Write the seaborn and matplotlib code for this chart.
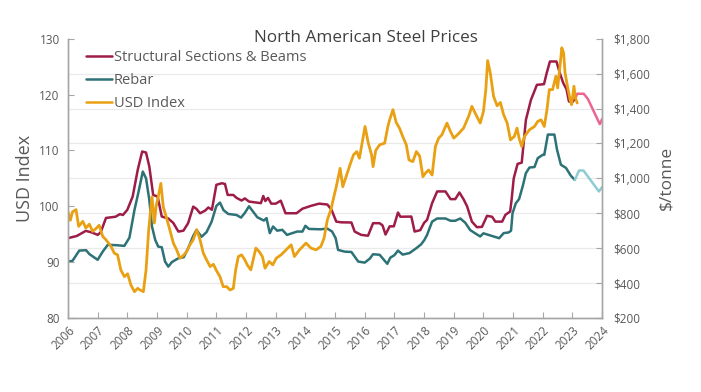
import numpy as np
import pandas as pd
import seaborn as sns
import matplotlib.pyplot as plt
from matplotlib.lines import Line2D

# ---- data (decimal years) ----
struct_years = [2006.0, 2006.3, 2006.6, 2006.8, 2007.0, 2007.1, 2007.28, 2007.6, 2007.75, 2007.85,
                2008.0, 2008.18, 2008.35, 2008.5, 2008.63, 2008.74, 2008.87, 2009.02, 2009.16, 2009.38,
                2009.55, 2009.72, 2009.89, 2010.05, 2010.22, 2010.33, 2010.45, 2010.62, 2010.73, 2010.85,
                2011.0, 2011.18, 2011.29, 2011.38, 2011.57, 2011.68, 2011.85, 2011.96, 2012.1, 2012.32,
                2012.5, 2012.58, 2012.65, 2012.74, 2012.85, 2013.0, 2013.17, 2013.33, 2013.7, 2013.9,
                2014.18, 2014.46, 2014.74, 2014.88, 2015.04, 2015.21, 2015.55, 2015.66, 2015.88, 2016.11,
                2016.28, 2016.5, 2016.6, 2016.7, 2016.84, 2016.98, 2017.12, 2017.2, 2017.57, 2017.68,
                2017.87, 2018.0, 2018.1, 2018.27, 2018.44, 2018.72, 2018.89, 2019.05, 2019.19, 2019.33,
                2019.45, 2019.61, 2019.78, 2019.95, 2020.12, 2020.29, 2020.4, 2020.63, 2020.74, 2020.9,
                2020.95, 2021.02, 2021.15, 2021.29, 2021.43, 2021.6, 2021.69, 2021.8, 2022.04, 2022.13,
                2022.24, 2022.46, 2022.58, 2022.69, 2022.8, 2022.88, 2022.99, 2023.1]
struct_usd_t = [657, 670, 699, 690, 676, 690, 773, 780, 795, 790,
                820, 896, 1049, 1154, 1148, 1068, 905, 896, 781, 770,
                744, 695, 700, 744, 838, 825, 800, 815, 833, 820,
                963, 972, 968, 905, 905, 888, 873, 885, 867, 862,
                858, 899, 870, 888, 855, 855, 872, 800, 800, 826,
                842, 855, 850, 820, 752, 748, 747, 695, 676, 671,
                743, 743, 730, 678, 725, 725, 804, 780, 781, 695,
                703, 745, 762, 858, 925, 925, 881, 881, 919, 880,
                839, 752, 720, 722, 785, 780, 752, 752, 791, 810,
                880, 1000, 1083, 1090, 1335, 1450, 1488, 1536, 1540, 1603,
                1670, 1670, 1600, 1546, 1510, 1441, 1436, 1460]

struct_fc_years = [2023.1, 2023.16, 2023.38, 2023.52, 2023.92, 2024.0]
struct_fc_usd_t = [1460, 1485, 1485, 1455, 1311, 1340]

rebar_years = [2006.0, 2006.15, 2006.38, 2006.61, 2006.72, 2007.0, 2007.17, 2007.34, 2007.62, 2007.9,
               2008.07, 2008.24, 2008.38, 2008.52, 2008.63, 2008.74, 2008.83, 2008.94, 2009.04, 2009.16,
               2009.27, 2009.38, 2009.5, 2009.72, 2009.9, 2010.05, 2010.22, 2010.33, 2010.5, 2010.67,
               2010.84, 2011.0, 2011.12, 2011.24, 2011.4, 2011.68, 2011.83, 2011.96, 2012.1, 2012.38,
               2012.6, 2012.69, 2012.8, 2012.91, 2013.05, 2013.22, 2013.38, 2013.72, 2013.9, 2014.0,
               2014.12, 2014.51, 2014.74, 2014.9, 2015.02, 2015.1, 2015.32, 2015.55, 2015.78, 2016.0,
               2016.17, 2016.28, 2016.5, 2016.76, 2016.86, 2017.0, 2017.12, 2017.28, 2017.51, 2017.74,
               2017.9, 2018.01, 2018.1, 2018.27, 2018.44, 2018.72, 2018.89, 2019.05, 2019.22, 2019.39,
               2019.55, 2019.72, 2019.89, 2020.0, 2020.17, 2020.34, 2020.53, 2020.68, 2020.85, 2020.93,
               2020.98, 2021.09, 2021.2, 2021.32, 2021.43, 2021.55, 2021.72, 2021.83, 2022.0, 2022.05,
               2022.17, 2022.39, 2022.48, 2022.61, 2022.78, 2022.95, 2023.08]
rebar_usd_t = [523, 527, 586, 588, 566, 533, 580, 619, 617, 613,
               660, 819, 925, 1039, 1000, 877, 724, 647, 609, 605,
               523, 494, 520, 542, 548, 600, 670, 704, 665, 692,
               752, 842, 861, 818, 796, 790, 775, 802, 840, 777,
               758, 772, 686, 724, 700, 705, 676, 695, 695, 728,
               710, 708, 712, 695, 657, 590, 580, 578, 523, 517,
               540, 565, 562, 510, 545, 560, 586, 563, 572, 600,
               622, 647, 676, 752, 770, 770, 757, 757, 770, 745,
               704, 685, 667, 685, 676, 667, 657, 686, 690, 700,
               800, 857, 881, 953, 1030, 1062, 1065, 1116, 1135, 1135,
               1251, 1251, 1164, 1078, 1060, 1014, 991]

rebar_fc_years = [2023.08, 2023.22, 2023.37, 2023.89, 2024.0]
rebar_fc_usd_t = [991, 1045, 1045, 925, 950]

usd_years = [2006.0, 2006.08, 2006.15, 2006.27, 2006.36, 2006.5, 2006.6, 2006.72, 2006.83, 2006.94,
             2007.05, 2007.17, 2007.28, 2007.45, 2007.56, 2007.67, 2007.78, 2007.9, 2008.01, 2008.12,
             2008.24, 2008.35, 2008.43, 2008.54, 2008.63, 2008.72, 2008.83, 2008.91, 2008.97, 2009.04,
             2009.13, 2009.21, 2009.32, 2009.43, 2009.55, 2009.66, 2009.77, 2009.89, 2010.0, 2010.11,
             2010.22, 2010.34, 2010.45, 2010.56, 2010.67, 2010.79, 2010.9, 2011.0, 2011.12, 2011.23,
             2011.35, 2011.46, 2011.57, 2011.65, 2011.74, 2011.85, 2011.96, 2012.04, 2012.16, 2012.33,
             2012.44, 2012.55, 2012.64, 2012.78, 2012.9, 2013.02, 2013.18, 2013.35, 2013.52, 2013.63,
             2013.8, 2014.02, 2014.19, 2014.36, 2014.52, 2014.63, 2014.74, 2014.86, 2014.95, 2015.04,
             2015.17, 2015.26, 2015.39, 2015.5, 2015.62, 2015.73, 2015.82, 2015.93, 2016.01, 2016.12,
             2016.23, 2016.28, 2016.37, 2016.5, 2016.67, 2016.78, 2016.84, 2016.95, 2017.06, 2017.17,
             2017.28, 2017.4, 2017.49, 2017.62, 2017.74, 2017.85, 2017.96, 2018.04, 2018.15, 2018.27,
             2018.38, 2018.49, 2018.6, 2018.77, 2018.88, 2019.0, 2019.16, 2019.33, 2019.5, 2019.61,
             2019.72, 2019.89, 2020.0, 2020.08, 2020.14, 2020.23, 2020.34, 2020.46, 2020.57, 2020.68,
             2020.8, 2020.91, 2021.04, 2021.13, 2021.2, 2021.29, 2021.38, 2021.55, 2021.72, 2021.83,
             2021.94, 2022.05, 2022.14, 2022.22, 2022.33, 2022.44, 2022.5, 2022.59, 2022.64, 2022.7,
             2022.75, 2022.83, 2022.92, 2022.97, 2023.05, 2023.1, 2023.16]
usd_index = [99.0, 97.5, 99.0, 99.4, 96.4, 97.3, 96.1, 96.8, 95.5, 96.0,
             96.6, 94.6, 94.0, 92.8, 91.6, 91.3, 88.6, 87.4, 87.9, 85.9,
             84.7, 85.3, 85.0, 84.7, 88.6, 95.8, 101.7, 97.0, 100.0, 101.7,
             104.1, 99.9, 97.9, 95.8, 93.4, 92.2, 90.7, 91.2, 91.9, 93.1,
             94.0, 95.8, 94.0, 91.6, 90.4, 89.2, 89.6, 88.5, 87.4, 85.6,
             85.6, 85.0, 85.3, 88.6, 91.0, 91.3, 90.4, 89.5, 88.6, 92.5,
             91.9, 91.0, 88.9, 90.1, 89.5, 90.7, 91.3, 92.2, 93.1, 91.0,
             92.2, 93.4, 92.5, 92.2, 92.8, 94.3, 97.6, 99.4, 101.5, 103.5,
             106.8, 103.5, 105.6, 107.4, 109.2, 109.8, 108.6, 111.9, 114.3, 111.3,
             109.2, 107.1, 110.0, 111.0, 111.3, 114.3, 115.5, 117.3, 115.0, 114.0,
             112.5, 111.0, 108.3, 108.0, 109.8, 109.0, 105.3, 105.9, 106.5, 105.6,
             110.7, 112.2, 112.8, 114.9, 113.5, 112.2, 113.0, 114.0, 116.1, 117.9,
             116.7, 114.9, 117.0, 120.9, 126.1, 123.9, 119.7, 118.0, 118.6, 116.4,
             114.9, 111.9, 112.5, 114.0, 112.2, 110.7, 112.5, 113.7, 114.3, 115.2,
             115.5, 114.3, 117.3, 120.9, 120.9, 123.3, 121.2, 125.7, 128.4, 127.5,
             123.9, 121.5, 119.1, 118.2, 121.5, 119.4, 118.5]

year_ticks = list(range(2006, 2025))
price_ticks = [200, 400, 600, 800, 1000, 1200, 1400, 1600, 1800]
index_ticks = [80, 90, 100, 110, 120, 130]

MAROON = '#9E1C48'
TEAL = '#2D7276'
ORANGE = '#E9A013'
PINK = '#EC6590'
LIGHTBLUE = '#8ECBD2'
GREY = '#595959'
SPINE = '#A6A6A6'

sns.set_theme(style='white')
plt.rcParams['font.family'] = ['Open Sans', 'DejaVu Sans']

fig = plt.figure(figsize=(7.01, 3.92), dpi=100)
ax = fig.add_axes([0.097, 0.189, 0.762, 0.712])
ax2 = ax.twinx()

# steel prices on the right axis
def draw(axis, xs, ys, color, lw):
    df = pd.DataFrame({'year': xs, 'value': ys})
    sns.lineplot(data=df, x='year', y='value', ax=axis, color=color,
                 linewidth=lw, estimator=None, sort=False)

draw(ax2, struct_years, struct_usd_t, MAROON, 1.8)
draw(ax2, struct_fc_years, struct_fc_usd_t, PINK, 1.8)
draw(ax2, rebar_years, rebar_usd_t, TEAL, 1.8)
draw(ax2, rebar_fc_years, rebar_fc_usd_t, LIGHTBLUE, 1.8)
# USD index on the left axis, drawn on top
draw(ax, usd_years, usd_index, ORANGE, 2.0)

ax.set_zorder(ax2.get_zorder() + 1)
ax.patch.set_visible(False)

ax.set_xlim(2006, 2024)
ax.set_ylim(80, 130)
ax2.set_ylim(200, 1800)
ax.set_xticks(year_ticks)
ax.set_xticklabels([str(y) for y in year_ticks], rotation=45, ha='right',
                   rotation_mode='anchor', fontsize=8.5, color=GREY)
ax.set_yticks(index_ticks)
ax.set_yticklabels([str(v) for v in index_ticks], fontsize=8.5, color=GREY)
ax2.set_yticks(price_ticks)
ax2.set_yticklabels([f'${v:,}' for v in price_ticks], fontsize=8.5, color=GREY)

ax2.grid(axis='y', color='#EAEAEA', linewidth=0.9)
ax2.yaxis.get_gridlines()[-1].set_visible(False)
ax.grid(False)

for a in (ax, ax2):
    a.spines['top'].set_visible(False)
    for s in ('left', 'right', 'bottom'):
        a.spines[s].set_color(SPINE)
        a.spines[s].set_linewidth(1.0)
    a.tick_params(direction='in', length=4, color=SPINE, width=0.8)
ax.tick_params(axis='x', pad=4, bottom=True)
ax.tick_params(axis='y', left=True, pad=6)
ax2.tick_params(axis='y', right=True, pad=8)

ax.set_xlabel('')
ax.set_ylabel('USD Index', fontsize=13, color=GREY, labelpad=4)
ax2.set_ylabel('$/tonne', fontsize=12.5, color=GREY, labelpad=6)

fig.text(366 / 701, 1 - 38 / 392, 'North American Steel Prices', ha='center',
         va='center', fontsize=12.3, color='#404040')

handles = [Line2D([], [], color=MAROON, lw=1.8),
           Line2D([], [], color=TEAL, lw=1.8),
           Line2D([], [], color=ORANGE, lw=1.8)]
labels = ['Structural Sections & Beams', 'Rebar', 'USD Index']
leg = ax.legend(handles, labels, loc='upper left', bbox_to_anchor=(0.015, 0.995),
                frameon=False, fontsize=10.5, handlelength=1.8, handletextpad=0.1,
                labelspacing=0.55, borderpad=0.2)
for t in leg.get_texts():
    t.set_color(GREY)

fig.savefig('out.png', dpi=100)
